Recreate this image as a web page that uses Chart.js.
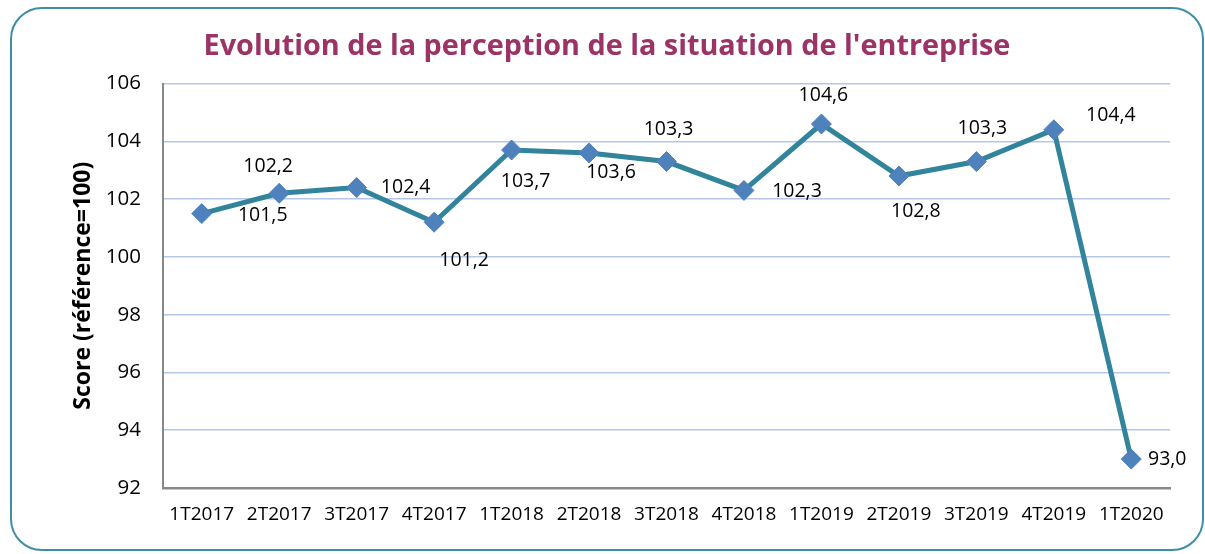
<!DOCTYPE html>
<html>
<head>
<meta charset="utf-8">
<script src="https://cdn.jsdelivr.net/npm/chart.js@4"></script>
<style>
  body { margin: 0; background: #fff; }
  #wrap { position: relative; width: 1205px; height: 554px; }
  #frame {
    position: absolute; left: 10px; top: 7px; width: 1190px; height: 540px;
    border: 2px solid #3f8ea5; border-radius: 32px;
  }
  canvas { position: absolute; left: 0; top: 0; }
</style>
</head>
<body>
<div id="wrap">
  <div id="frame"></div>
  <canvas id="myChart" width="1205" height="554"></canvas>
</div>
<script>
// data
const quarters = ["1T2017", "2T2017", "3T2017", "4T2017", "1T2018", "2T2018", "3T2018", "4T2018", "1T2019", "2T2019", "3T2019", "4T2019", "1T2020"];
const scores = [101.5, 102.2, 102.4, 101.2, 103.7, 103.6, 103.3, 102.3, 104.6, 102.8, 103.3, 104.4, 93.0];
const yTicks = [92, 94, 96, 98, 100, 102, 104, 106];

// where each value label sits relative to its point (px)
const labelOffsets = [[61, 2], [-11, -27], [49, 0], [30, 38], [14, 31], [22, 20], [2, -32], [53, 1], [2, -29], [17, 35], [6, -33], [57, -14], [36, 0]];

const FONT = "'Open Sans', sans-serif";

// draw the value labels (french decimal comma)
const valueLabels = {
  id: "valueLabels",
  afterDatasetsDraw(chart) {
    const ctx = chart.ctx;
    const meta = chart.getDatasetMeta(0);
    ctx.save();
    ctx.font = "19.5px " + FONT;
    ctx.fillStyle = "#000";
    ctx.textAlign = "center";
    ctx.textBaseline = "middle";
    meta.data.forEach((pt, i) => {
      const off = labelOffsets[i];
      ctx.fillText(scores[i].toFixed(1).replace(".", ","), pt.x + off[0], pt.y + off[1]);
    });
    ctx.restore();
  },
};

let ctx = document.getElementById("myChart").getContext("2d");
let myChart = new Chart(ctx, {
  type: "line",
  data: {
    labels: quarters,
    datasets: [
      {
        data: scores,
        borderColor: "#31849b",
        borderWidth: 5,
        tension: 0,
        pointStyle: "rectRot",
        pointRadius: 10,
        pointHoverRadius: 10,
        pointBackgroundColor: "#4f81bd",
        pointBorderColor: "#4f81bd",
        pointBorderWidth: 1,
      },
    ],
  },
  options: {
    responsive: false,
    animation: false,
    layout: { padding: { left: 44, right: 35, top: 0, bottom: 0 } },
    plugins: {
      legend: { display: false },
      tooltip: { enabled: false },
      title: {
        display: true,
        text: "Evolution de la perception de la situation de l'entreprise",
        color: "#9b3366",
        font: { family: FONT, size: 28.8, weight: "bold" },
        padding: { top: 30, bottom: 19 },
      },
    },
    scales: {
      x: {
        offset: true,
        grid: { display: false, drawTicks: false },
        border: { color: "#888", width: 2.5 },
        ticks: { color: "#000", font: { family: FONT, size: 19 }, padding: 15, maxRotation: 0, autoSkip: false },
        afterFit: (scale) => { scale.height = 66; },
      },
      y: {
        min: 92,
        max: 106,
        afterBuildTicks: (scale) => { scale.ticks = yTicks.map((v) => ({ value: v })); },
        grid: { color: "#b4c7e9", lineWidth: 1.5, drawTicks: false },
        border: { color: "#888", width: 2 },
        ticks: { color: "#000", font: { family: FONT, size: 20.5 }, padding: 22 },
        title: {
          display: true,
          text: "Score (référence=100)",
          color: "#000",
          font: { family: FONT, size: 23, weight: "bold" },
          padding: { top: 26, bottom: 0 },
        },
        afterFit: (scale) => { scale.width = 119; },
      },
    },
  },
  plugins: [valueLabels],
});
</script>
</body>
</html>
